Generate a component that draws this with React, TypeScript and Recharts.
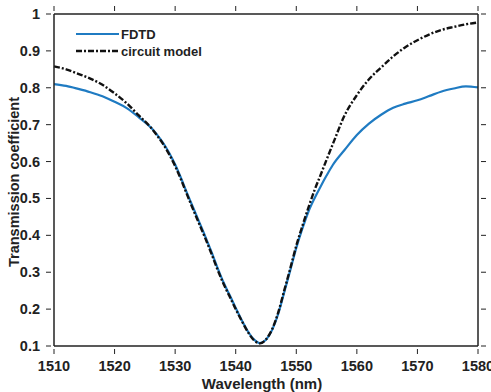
import { LineChart, Line, XAxis, YAxis } from 'recharts'

const wavelengths = [
  1510, 1512, 1514, 1516, 1518, 1520, 1522, 1524, 1526, 1527, 1528, 1529, 1530, 1531, 1532, 1533,
  1534, 1535, 1536, 1537, 1538, 1539, 1540, 1541, 1542, 1543, 1544, 1545, 1546, 1547, 1548, 1549,
  1550, 1551, 1552, 1553, 1554, 1555, 1556, 1558, 1560, 1562, 1564, 1566, 1568, 1570, 1572, 1574,
  1576, 1578, 1580,
]
const fdtd = [
  0.81, 0.805, 0.797, 0.788, 0.777, 0.762, 0.745, 0.72, 0.692, 0.673, 0.651, 0.624, 0.592, 0.554,
  0.513, 0.474, 0.435, 0.396, 0.355, 0.312, 0.272, 0.238, 0.203, 0.17, 0.14, 0.118, 0.108, 0.117,
  0.143, 0.186, 0.245, 0.305, 0.366, 0.418, 0.464, 0.5, 0.532, 0.562, 0.59, 0.632, 0.672, 0.703,
  0.727, 0.746, 0.757, 0.766, 0.778, 0.79, 0.798, 0.804, 0.801,
]
const circuit = [
  0.858, 0.85, 0.838, 0.825, 0.808, 0.785, 0.758, 0.725, 0.692, 0.671, 0.648, 0.62, 0.588, 0.55,
  0.509, 0.469, 0.43, 0.391, 0.35, 0.307, 0.268, 0.234, 0.2, 0.168, 0.138, 0.116, 0.107, 0.118,
  0.145, 0.19, 0.25, 0.31, 0.372, 0.425, 0.475, 0.522, 0.563, 0.605, 0.646, 0.726, 0.78, 0.823,
  0.855, 0.885, 0.91, 0.929, 0.945, 0.957, 0.965, 0.972, 0.977,
]
const xTicks = [1510, 1520, 1530, 1540, 1550, 1560, 1570, 1580]
const yTicks = [0.1, 0.2, 0.3, 0.4, 0.5, 0.6, 0.7, 0.8, 0.9, 1]

const data = wavelengths.map((w, i) => ({ w, fdtd: fdtd[i], circuit: circuit[i] }))

const font = 'Liberation Sans, Arial, sans-serif'
const BLUE = '#1f7bc2'
const INK = '#222'

function BottomTick({ x, y, payload }: any) {
  return (
    <g>
      <line x1={x} x2={x} y1={y} y2={y - 5} stroke={INK} strokeWidth={1} />
      <text x={x} y={y + 17} textAnchor="middle" fontSize={14.5} fontWeight="bold" fill={INK} fontFamily={font}>
        {payload.value}
      </text>
    </g>
  )
}

function LeftTick({ x, y, payload }: any) {
  return (
    <g>
      <line x1={x} x2={x + 5} y1={y} y2={y} stroke={INK} strokeWidth={1} />
      <text x={x - 6} y={y + 5} textAnchor="end" fontSize={14.5} fontWeight="bold" fill={INK} fontFamily={font}>
        {payload.value}
      </text>
    </g>
  )
}

function TopTick({ x, y }: any) {
  return <line x1={x} x2={x} y1={y} y2={y + 5} stroke={INK} strokeWidth={1} />
}

function RightTick({ x, y }: any) {
  return <line x1={x} x2={x - 5} y1={y} y2={y} stroke={INK} strokeWidth={1} />
}

export default function App() {
  return (
    <div style={{ position: 'absolute', left: 0, top: 0, width: 491, height: 392, background: '#fff' }}>
      <LineChart width={491} height={392} data={data} margin={{ top: 13, right: 12, left: 14, bottom: 16 }}>
        <XAxis
          dataKey="w"
          type="number"
          domain={[1510, 1580]}
          ticks={xTicks}
          height={30}
          axisLine={{ stroke: INK, strokeWidth: 1.5 }}
          tickLine={false}
          tick={<BottomTick />}
          interval={0}
        />
        <XAxis
          xAxisId="top"
          dataKey="w"
          type="number"
          orientation="top"
          domain={[1510, 1580]}
          ticks={xTicks}
          height={1}
          axisLine={{ stroke: INK, strokeWidth: 1.5 }}
          tickLine={false}
          tick={<TopTick />}
          interval={0}
        />
        <YAxis
          type="number"
          domain={[0.1, 1]}
          ticks={yTicks}
          width={40}
          axisLine={{ stroke: INK, strokeWidth: 1.5 }}
          tickLine={false}
          tick={<LeftTick />}
          interval={0}
        />
        <YAxis
          yAxisId="right"
          orientation="right"
          type="number"
          domain={[0.1, 1]}
          ticks={yTicks}
          width={1}
          axisLine={{ stroke: INK, strokeWidth: 1.5 }}
          tickLine={false}
          tick={<RightTick />}
          interval={0}
        />
        <Line
          dataKey="fdtd"
          type="monotone"
          stroke={BLUE}
          strokeWidth={2.2}
          dot={false}
          isAnimationActive={false}
        />
        <Line
          dataKey="circuit"
          xAxisId="top"
          yAxisId="right"
          type="monotone"
          stroke="#111"
          strokeWidth={2.4}
          strokeDasharray="6 2 2 2"
          dot={false}
          isAnimationActive={false}
        />
      </LineChart>
      <div
        style={{
          position: 'absolute',
          left: 14,
          top: 182,
          transform: 'translate(-50%, -50%) rotate(-90deg)',
          whiteSpace: 'nowrap',
          fontFamily: font,
          fontWeight: 'bold',
          fontSize: 14.5,
          color: INK,
        }}
      >
        Transmission coefficient
      </div>
      <div
        style={{
          position: 'absolute',
          left: 262,
          top: 383,
          transform: 'translate(-50%, -50%)',
          whiteSpace: 'nowrap',
          fontFamily: font,
          fontWeight: 'bold',
          fontSize: 15,
          color: INK,
        }}
      >
        Wavelength (nm)
      </div>
      <svg style={{ position: 'absolute', left: 0, top: 0 }} width={260} height={70}>
        <line x1={76} x2={119} y1={34} y2={34} stroke={BLUE} strokeWidth={2.2} />
        <text x={121} y={39} fontSize={13} fontWeight="bold" fill={INK} fontFamily={font}>
          FDTD
        </text>
        <line x1={76} x2={119} y1={51} y2={51} stroke="#111" strokeWidth={2.4} strokeDasharray="6 2 2 2" />
        <text x={121} y={56} fontSize={13} fontWeight="bold" fill={INK} fontFamily={font}>
          circuit model
        </text>
      </svg>
    </div>
  )
}
